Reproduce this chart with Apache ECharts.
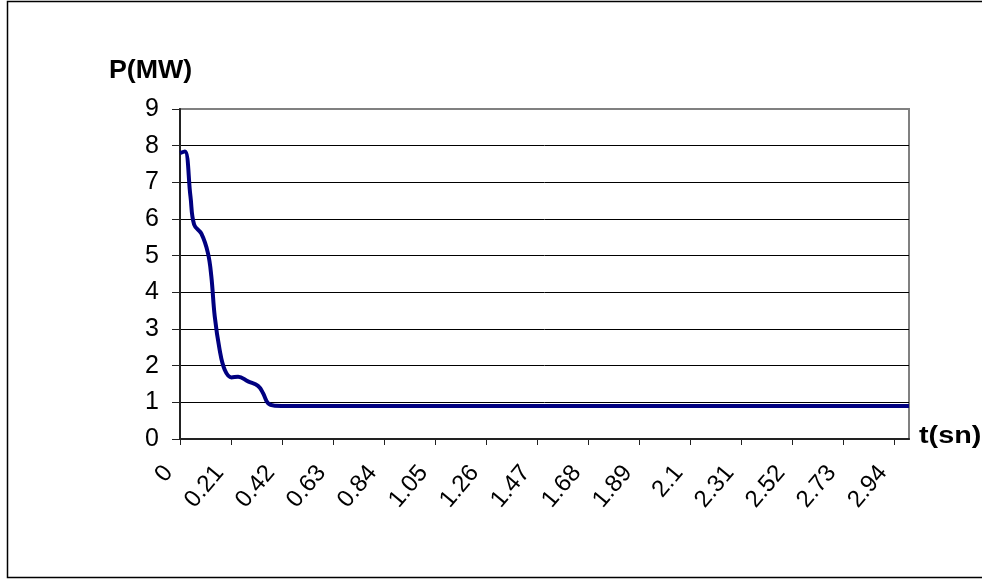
<!DOCTYPE html>
<html><head><meta charset="utf-8">
<script src="https://cdn.jsdelivr.net/npm/echarts@6/dist/echarts.min.js"></script>
<style>html,body{margin:0;padding:0;background:#fff}#c{width:982px;height:579px}</style>
</head><body><div id="c"></div>
<script>
// time (s) and active power (MW)
const timeS = [0, 0.02, 0.043, 0.058, 0.088, 0.115, 0.129, 0.143, 0.163, 0.184, 0.212, 0.239, 0.28, 0.321, 0.342, 0.362, 0.39, 0.45, 0.6, 1.0, 2.0, 3.0];
const powerMW = [7.8, 7.84, 6.62, 5.85, 5.6, 5.07, 4.43, 3.34, 2.44, 1.89, 1.68, 1.7, 1.57, 1.45, 1.25, 0.98, 0.91, 0.9, 0.9, 0.9, 0.9, 0.9];
const xTickValues = [0, 0.21, 0.42, 0.63, 0.84, 1.05, 1.26, 1.47, 1.68, 1.89, 2.1, 2.31, 2.52, 2.73, 2.94];
const yMin = 0, yMax = 9, yStep = 1;
const yTitle = 'P(MW)';
const xTitle = 't(sn)';

const FONT = '"Liberation Sans", Arial, sans-serif';
const chart = echarts.init(document.getElementById('c'), null, {renderer: 'canvas'});
chart.setOption({
  animation: false,
  backgroundColor: '#fff',
  grid: {left: 180, top: 109, width: 729, height: 330, show: true, borderColor: '#808080', borderWidth: 2, backgroundColor: '#fff', containLabel: false},
  xAxis: {
    type: 'value', min: 0, max: 3.0,
    axisLine: {show: true, onZero: false, lineStyle: {color: '#222', width: 2}},
    axisTick: {show: true, customValues: xTickValues, length: 6, lineStyle: {color: '#222', width: 1}},
    axisLabel: {
      customValues: xTickValues, rotate: 50, margin: 16,
      formatter: v => '{a|' + v + '}',
      rich: {a: {fontSize: 24, fontFamily: FONT, color: '#000', padding: [0, 18, 0, 0]}}
    },
    splitLine: {show: false}
  },
  yAxis: {
    type: 'value', min: yMin, max: yMax, interval: yStep,
    axisLine: {show: true, lineStyle: {color: '#222', width: 2}},
    axisTick: {show: true, length: 8, lineStyle: {color: '#222', width: 1}},
    axisLabel: {fontSize: 25, fontFamily: FONT, color: '#000', margin: 21},
    splitLine: {show: true, showMinLine: false, showMaxLine: false, lineStyle: {color: '#000', width: 1}}
  },
  series: [{
    type: 'line',
    data: timeS.map((t, i) => [t, powerMW[i]]),
    smooth: 0.4,
    showSymbol: false, symbol: 'none',
    lineStyle: {color: '#000080', width: 4},
    clip: true
  }],
  graphic: [
    {type: 'rect', shape: {x: 7.5, y: 1.5, width: 1000, height: 576}, style: {fill: 'none', stroke: '#000', lineWidth: 1.5}, silent: true},
    {type: 'text', x: 109, y: 59, scaleX: 1.07, style: {text: yTitle, font: 'bold 25px ' + FONT, fill: '#000', textVerticalAlign: 'top'}},
    {type: 'text', x: 919, y: 425, scaleX: 1.25, style: {text: xTitle, font: 'bold 23px ' + FONT, fill: '#000', textVerticalAlign: 'top'}}
  ]
});
</script>
</body></html>
